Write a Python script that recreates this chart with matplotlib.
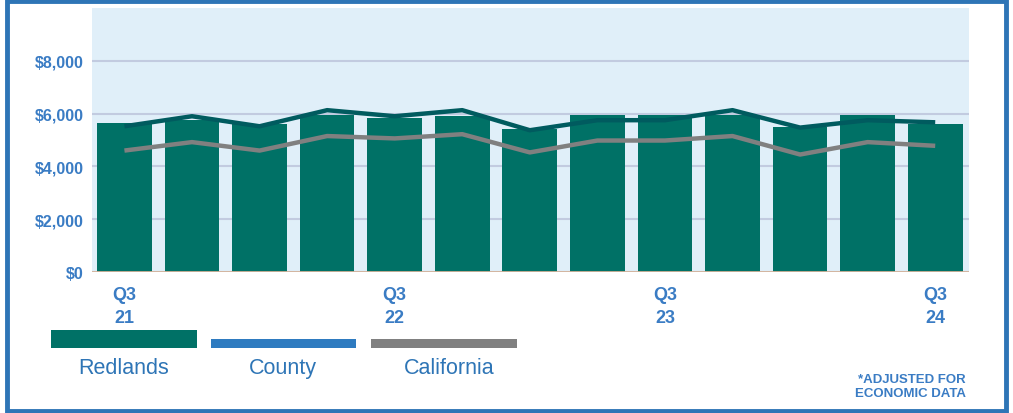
import numpy as np
import matplotlib
matplotlib.use("Agg")
import matplotlib.pyplot as plt
from matplotlib.patches import Rectangle
from matplotlib.ticker import FuncFormatter

plt.rcParams['font.family'] = ['Liberation Sans', 'DejaVu Sans']

# Data
quarters = ["Q3\n21", "", "", "", "Q3\n22", "", "", "", "Q3\n23", "", "", "", "Q3\n24"]
redlands = [5660, 5750, 5590, 5960, 5820, 5900, 5430, 5960, 5960, 5960, 5510, 5960, 5590]
county = [5520, 5900, 5520, 6130, 5900, 6130, 5370, 5750, 5750, 6130, 5470, 5750, 5670]
california = [4600, 4920, 4600, 5150, 5060, 5220, 4530, 4980, 4980, 5150, 4450, 4920, 4780]
yticks = [0, 2000, 4000, 6000, 8000]
legend_names = ["Redlands", "County", "California"]

W, H = 1013, 414
teal = "#007166"
dark_teal = "#005b5f"
gray = "#808080"
blue = "#2e75b6"
tick_blue = "#3a7cc4"

fig = plt.figure(figsize=(W / 100, H / 100), dpi=100)

def fx(px):
    return px / W

def fy(py):
    return 1 - py / H

ax = fig.add_axes([fx(92), fy(273), fx(969) - fx(92), fy(9) - fy(273)])
ax.set_facecolor("#e0eff9")

x = np.arange(len(redlands))
ax.bar(x, redlands, width=0.81, color=teal, zorder=2)
ax.plot(x, county, color=dark_teal, lw=3.2, zorder=3, solid_capstyle='butt')
ax.plot(x, california, color=gray, lw=3.2, zorder=3, solid_capstyle='butt')

ax.set_xlim(-0.48, 12.5)
ax.set_ylim(0, 10000)
ax.set_yticks(yticks)
ax.yaxis.set_major_formatter(FuncFormatter(lambda v, p: "${:,.0f}".format(v)))
ax.set_xticks(x)
ax.set_xticklabels(quarters, linespacing=1.5)
ax.tick_params(axis='both', length=0, colors=tick_blue)
ax.tick_params(axis='y', pad=6)
ax.tick_params(axis='x', pad=10)
for lab in ax.get_yticklabels():
    lab.set_fontweight('bold')
    lab.set_fontsize(11.5)
for lab in ax.get_xticklabels():
    lab.set_fontweight('bold')
    lab.set_fontsize(13)

ax.grid(axis='y', color="#c2cbe0", lw=1.5, zorder=1)
for s in ax.spines.values():
    s.set_visible(False)
ax.axhline(0, color="#d6b49a", lw=2, zorder=4)

# legend swatches
swatches = [(51, 331, 146, 18, teal), (211, 340, 145, 9, "#2e7bc0"), (371, 340, 146, 9, gray)]
for (px, py, pw, ph, c) in swatches:
    fig.add_artist(Rectangle((fx(px), fy(py + ph)), pw / W, ph / H,
                             transform=fig.transFigure, color=c, lw=0))
centers = [124, 283, 449]
for name, cx in zip(legend_names, centers):
    fig.text(fx(cx), fy(369), name, ha='center', va='center', color=blue, fontsize=15.5)

fig.text(fx(966), fy(387), "*ADJUSTED FOR\nECONOMIC DATA", ha='right', va='center',
         color=tick_blue, fontsize=9.5, fontweight='bold', linespacing=1.2)

# outer border
fig.add_artist(Rectangle((fx(6.5), fy(411.5)), (1006 - 6.5) / W, (411.5 - 2) / H,
                         transform=fig.transFigure, fill=False, edgecolor=blue, lw=3.5))

fig.savefig("out.png", dpi=100)
